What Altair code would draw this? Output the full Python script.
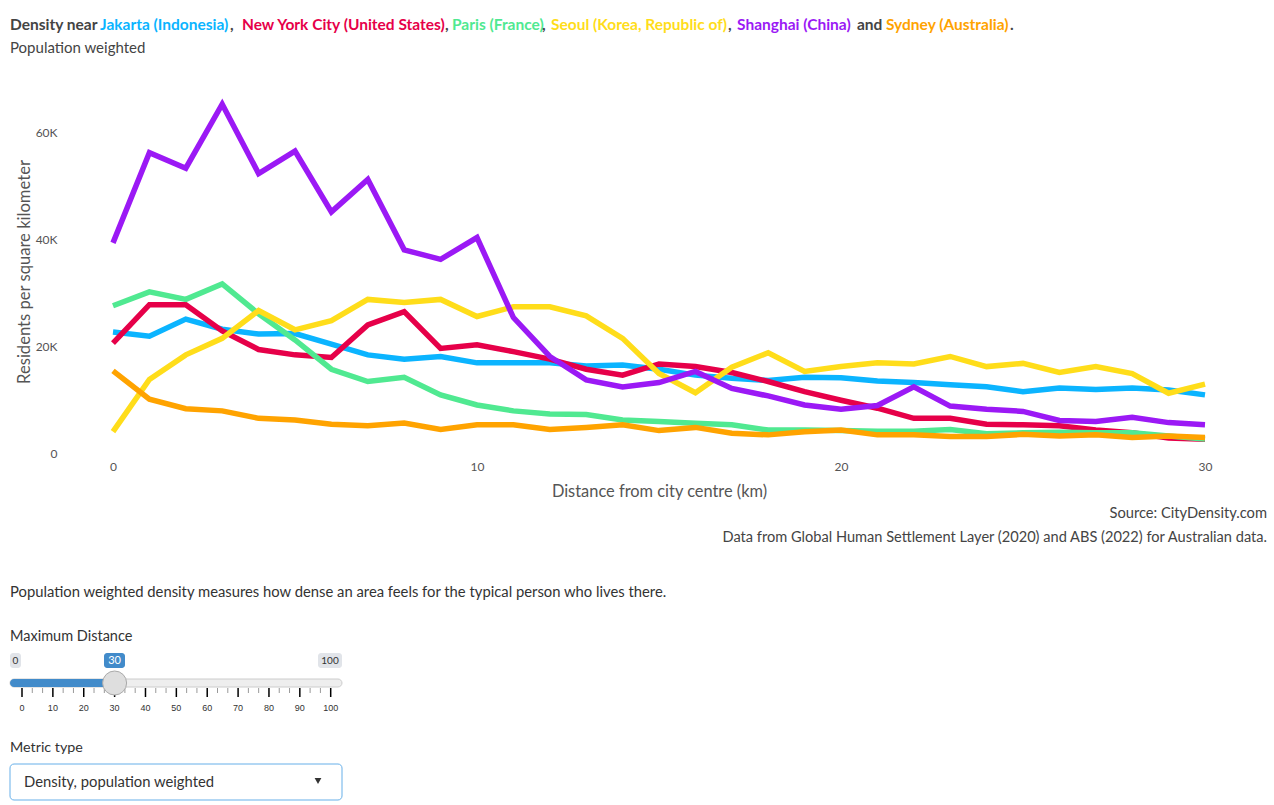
import altair as alt
import pandas as pd

# ---------------- data ----------------
distance_km = list(range(0, 31))

cities = [
    "Jakarta (Indonesia)",
    "New York City (United States)",
    "Paris (France)",
    "Seoul (Korea, Republic of)",
    "Shanghai (China)",
    "Sydney (Australia)",
]
colors = ["#0bb4ff", "#e60049", "#50e991", "#ffdd1a", "#9b19f5", "#ffa300"]

# density, thousands of residents per km2
jakarta = [22.7, 21.9, 25.1, 23.2, 22.3, 22.4, 20.4, 18.4, 17.6, 18.1, 16.9, 16.9, 16.9, 16.3, 16.5, 15.7,
           14.6, 14.0, 13.6, 14.2, 14.1, 13.5, 13.2, 12.8, 12.4, 11.5, 12.2, 11.9, 12.2, 11.8, 10.9]
new_york = [20.6, 27.8, 27.8, 22.9, 19.4, 18.4, 17.9, 24.0, 26.5, 19.6, 20.3, 19.0, 17.6, 15.7, 14.6, 16.7,
            16.2, 15.1, 13.4, 11.5, 9.9, 8.4, 6.5, 6.5, 5.4, 5.3, 5.1, 4.3, 3.8, 2.8, 2.6]
paris = [27.6, 30.2, 28.8, 31.7, 26.1, 21.2, 15.7, 13.4, 14.2, 10.9, 9.0, 7.9, 7.3, 7.2, 6.2, 5.9,
         5.6, 5.3, 4.3, 4.3, 4.2, 4.1, 4.1, 4.4, 3.6, 3.8, 3.9, 3.8, 3.8, 3.2, 2.6]
seoul = [4.0, 13.8, 18.4, 21.5, 26.7, 23.1, 24.8, 28.8, 28.2, 28.8, 25.6, 27.4, 27.4, 25.7, 21.5, 14.9,
         11.3, 16.1, 18.8, 15.3, 16.2, 16.9, 16.7, 18.1, 16.2, 16.8, 15.1, 16.2, 14.9, 11.2, 12.9]
shanghai = [39.4, 56.3, 53.4, 65.4, 52.4, 56.6, 45.2, 51.3, 38.1, 36.3, 40.4, 25.4, 18.1, 13.7, 12.4, 13.2,
            15.3, 12.1, 10.7, 9.0, 8.2, 8.9, 12.4, 8.8, 8.2, 7.8, 6.1, 5.9, 6.7, 5.7, 5.3]
sydney = [15.4, 10.1, 8.3, 7.9, 6.5, 6.2, 5.4, 5.1, 5.6, 4.4, 5.3, 5.3, 4.4, 4.8, 5.3, 4.2,
          4.8, 3.7, 3.4, 4.0, 4.3, 3.4, 3.4, 3.1, 3.1, 3.5, 3.2, 3.4, 2.9, 3.2, 2.9]

x_ticks = [0, 10, 20, 30]
y_ticks = [0, 20000, 40000, 60000]

slider_min, slider_max, slider_value = 0, 100, 30
slider_major = list(range(0, 101, 10))
slider_minor = [round(i * 10 / 3, 3) for i in range(31) if i % 3]

series = [jakarta, new_york, paris, seoul, shanghai, sydney]
rows = []
for order, (city, vals) in enumerate(zip(cities, series)):
    for d, v in zip(distance_km, vals):
        rows.append({"city": city, "order": order, "distance": d, "density": v * 1000})
df = pd.DataFrame(rows)

# ---------------- layout ----------------
FONT = "Lato"
DARK = "#444444"
OX, OY = 113, 90          # plot origin in page pixels
W, H = 1092, 363


def px(x):
    return x - OX


def py(y):
    return y - OY


one = alt.Data(values=[{}])


def label(text, x, y, size=14, color=DARK, weight="normal", align="left"):
    return alt.Chart(one).mark_text(
        text=text, font=FONT, fontSize=size, color=color, fontWeight=weight,
        align=align, baseline="middle"
    ).encode(x=alt.value(px(x)), y=alt.value(py(y + 1.5)))


def box(x1, x2, y1, y2, fill, stroke=None, radius=3, sw=1):
    kw = dict(fill=fill, cornerRadius=radius)
    if stroke:
        kw.update(stroke=stroke, strokeWidth=sw)
    return alt.Chart(one).mark_rect(**kw).encode(
        x=alt.value(px(x1)), x2=alt.value(px(x2)), y=alt.value(py(y1)), y2=alt.value(py(y2))
    )


# ---------------- main lines ----------------
lines = alt.Chart(df).mark_line(strokeWidth=5.5).encode(
    x=alt.X(
        "distance:Q",
        scale=alt.Scale(domain=[0, 30], nice=False, zero=False),
        axis=alt.Axis(
            values=x_ticks, title="Distance from city centre (km)", grid=False, domain=False,
            ticks=False, labelFlush=False, labelPadding=8, labelFontSize=12, labelColor="#555555",
            labelFont=FONT, titleFont=FONT, titleFontSize=16.4, titleFontWeight="normal",
            titleColor="#555555", titleY=38, titleBaseline="middle",
        ),
    ),
    y=alt.Y(
        "density:Q",
        scale=alt.Scale(domain=[0, 68060], nice=False),
        axis=alt.Axis(
            values=y_ticks, title="Residents per square kilometer", grid=False, domain=False,
            ticks=False, labelFlush=False, labelPadding=56, labelFontSize=12, labelColor="#555555",
            labelFont=FONT, labelExpr="datum.value == 0 ? '0' : (datum.value / 1000) + 'K'",
            titleFont=FONT, titleFontSize=16.6, titleFontWeight="normal", titleColor="#555555",
            titleX=px(24), titleY=H / 2, titleBaseline="middle", titleAlign="center",
        ),
    ),
    color=alt.Color("city:N", scale=alt.Scale(domain=cities, range=colors), legend=None),
    order=alt.Order("order:Q"),
)

# ---------------- title ----------------
TS = 15.5
title_pos = [100, 242, 452, 551, 737, 886]
comma_pos = [230, 445, 542, 728]
title_y = 23
layers = [label("Density near", 10, title_y, weight="bold", size=TS)]
for city, col, xpos in zip(cities, colors, title_pos):
    layers.append(label(city, xpos, title_y, color=col, weight="bold", size=TS))
for cpos in comma_pos:
    layers.append(label(",", cpos, title_y, weight="bold", size=TS))
layers.append(label("and", 857, title_y, weight="bold", size=TS))
layers.append(label(".", 1010, title_y, weight="bold", size=TS))
layers.append(label("Population weighted", 10, 46, size=15))

# ---------------- source / notes ----------------
layers.append(label("Source: CityDensity.com", 1267, 512, size=14.7, align="right"))
layers.append(label("Data from Global Human Settlement Layer (2020) and ABS (2022) for Australian data.",
                    1267, 536, size=14.6, align="right"))
layers.append(label("Population weighted density measures how dense an area feels for the typical person who lives there.",
                    10, 591, size=14.8, color="#333333"))
layers.append(label("Maximum Distance", 10, 635, size=14.5, color="#333333"))
layers.append(label("Metric type", 10, 746, size=14.3, color="#333333"))

# ---------------- slider ----------------
sl_scale = alt.Scale(domain=[slider_min, slider_max], range=[px(22), px(330.7)], nice=False, zero=False)
layers.append(box(10, 342, 679, 687, "#eeeeee", stroke="#cccccc", radius=4))
layers.append(box(10, 118, 679, 687, "#428bca", radius=4))

major_df = pd.DataFrame({"v": slider_major})
minor_df = pd.DataFrame({"v": slider_minor})
layers.append(alt.Chart(minor_df).mark_rule(color="#999999", strokeWidth=1).encode(
    x=alt.X("v:Q", scale=sl_scale, axis=None), y=alt.value(py(688)), y2=alt.value(py(693))))
layers.append(alt.Chart(major_df).mark_rule(color="#000000", strokeWidth=1.5).encode(
    x=alt.X("v:Q", scale=sl_scale, axis=None), y=alt.value(py(688)), y2=alt.value(py(697))))
layers.append(alt.Chart(major_df).mark_text(font="Liberation Sans", fontSize=9, color="#333333",
                                            baseline="middle").encode(
    x=alt.X("v:Q", scale=sl_scale, axis=None), y=alt.value(py(708)), text="v:Q"))

# handle
layers.append(alt.Chart(pd.DataFrame({"v": [slider_value]})).mark_point(
    shape="circle", size=576, filled=True, fill="#dedede", stroke="#aaaaaa", strokeWidth=1, opacity=1
).encode(x=alt.X("v:Q", scale=sl_scale, axis=None), y=alt.value(py(683))))

# value boxes
layers.append(box(10, 21, 653, 668, "#e1e4e9"))
layers.append(box(104, 125, 653, 668, "#428bca"))
layers.append(box(318, 342, 653, 668, "#e1e4e9"))
layers.append(label(str(slider_min), 15.5, 659.5, size=10, color="#333333", align="center"))
layers.append(label(str(slider_value), 114.5, 659.5, size=11, color="#ffffff", align="center"))
layers.append(label(str(slider_max), 330, 659.5, size=10, color="#333333", align="center"))

# ---------------- dropdown ----------------
layers.append(box(10, 764, 342, 800, "#ffffff", stroke="#66afe9", radius=4) if False else
              box(10, 342, 764, 800, "#ffffff", stroke="#66afe9", radius=4))
layers.append(label("Density, population weighted", 24, 781, size=14.8, color="#333333"))
layers.append(alt.Chart(one).mark_point(shape="triangle-down", size=45, filled=True, fill="#333333",
                                        opacity=1).encode(x=alt.value(px(318)), y=alt.value(py(781))))

chart = alt.layer(lines, *layers).resolve_scale(x="independent").properties(
    width=W, height=H,
    autosize=alt.AutoSizeParams(type="none"),
    padding={"left": OX, "top": OY, "right": 1274 - OX - W, "bottom": 805 - OY - H},
    background="white",
).configure_view(stroke=None)

chart.save("out.html", embed_options={"renderer": "svg", "actions": False})
